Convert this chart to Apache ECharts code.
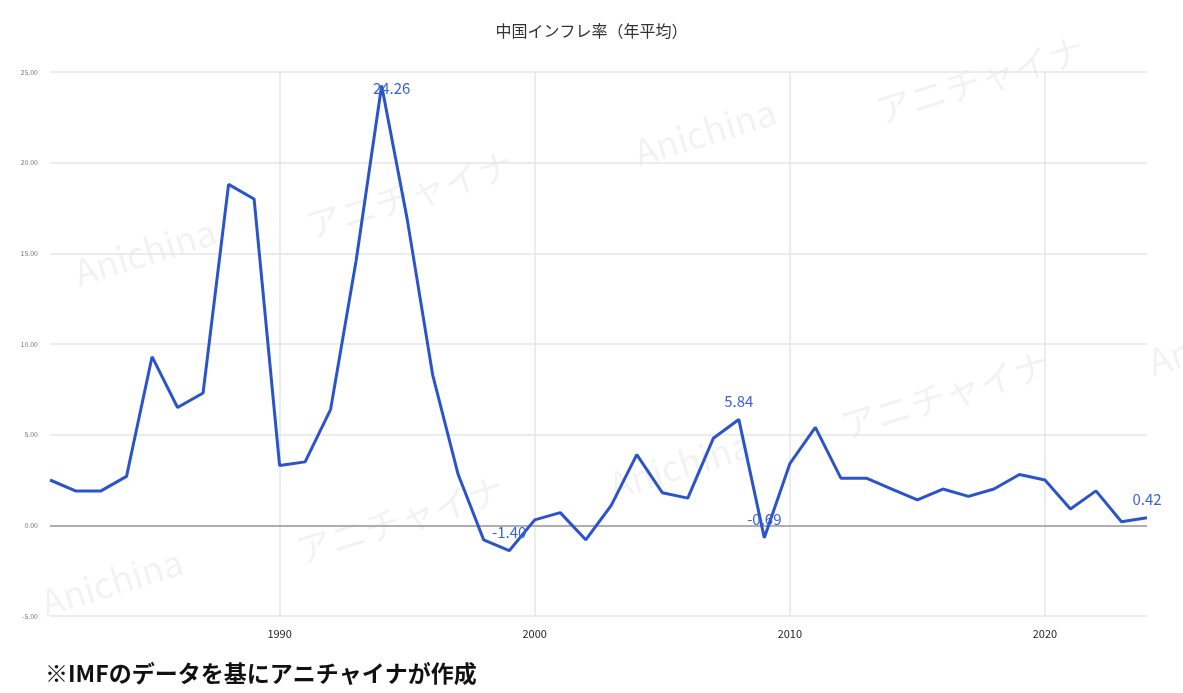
<!DOCTYPE html>
<html>
<head>
<meta charset="utf-8">
<script src="https://cdn.jsdelivr.net/npm/echarts@6/dist/echarts.min.js"></script>
<style>
  html, body { margin: 0; padding: 0; background: #fff; }
  #chart { width: 1183px; height: 693px; }
</style>
</head>
<body>
<div id="chart"></div>
<script>
// China annual average inflation (%), 1981–2024
const years = [1981,1982,1983,1984,1985,1986,1987,1988,1989,1990,
               1991,1992,1993,1994,1995,1996,1997,1998,1999,2000,
               2001,2002,2003,2004,2005,2006,2007,2008,2009,2010,
               2011,2012,2013,2014,2015,2016,2017,2018,2019,2020,
               2021,2022,2023,2024];
const inflation = [2.5,1.9,1.9,2.7,9.3,6.5,7.3,18.8,18.0,3.3,
                   3.5,6.4,14.6,24.26,16.9,8.3,2.8,-0.8,-1.40,0.3,
                   0.7,-0.8,1.1,3.9,1.8,1.5,4.8,5.84,-0.69,3.4,
                   5.4,2.6,2.6,2.0,1.4,2.0,1.6,2.0,2.8,2.5,
                   0.9,1.9,0.2,0.42];
const labeledYears = [1994, 1999, 2008, 2009, 2024];
const decadeTicks = [1990, 2000, 2010, 2020];

const titleText = '中国インフレ率（年平均）';
const noteText = '※IMFのデータを基にアニチャイナが作成';

const FONT = '"Noto Sans CJK JP", "Noto Sans", sans-serif';

const seriesData = years.map((y, i) => {
  const item = { value: [y, inflation[i]] };
  if (labeledYears.includes(y)) {
    item.label = {
      show: true,
      position: 'top',
      distance: 11,
      formatter: inflation[i].toFixed(2),
      color: '#3a63d6',
      fontSize: 15,
      fontFamily: FONT
    };
    if (y === 1994) item.label.offset = [10, 21];
  }
  return item;
});

// faint diagonal watermark text
const marks = [
  ['Anichina', 145, 252], ['アニチャイナ', 410, 195], ['Anichina', 705, 132],
  ['アニチャイナ', 980, 80], ['Anichina', 680, 465], ['アニチャイナ', 945, 395],
  ['Anichina', 112, 582], ['アニチャイナ', 400, 520], ['Ani', 1175, 355]
];
const watermarks = marks.map(([t, x, y]) => ({
  type: 'text', x: x, y: y, rotation: 0.3, z: 0, silent: true,
  style: {
    text: t, x: 0, y: 0, align: 'center', verticalAlign: 'middle',
    fill: 'rgba(0,0,0,0.05)', font: '36px ' + FONT
  }
}));

const chart = echarts.init(document.getElementById('chart'));
chart.setOption({
  animation: false,
  backgroundColor: '#ffffff',
  title: {
    text: titleText,
    left: 'center',
    top: 18,
    textStyle: { fontFamily: FONT, fontSize: 16, fontWeight: 'normal', color: '#333' }
  },
  grid: { left: 50, right: 36, top: 72, bottom: 77 },
  xAxis: {
    type: 'value',
    min: 1981,
    max: 2024,
    axisLine: { show: false },
    axisTick: { show: false },
    splitLine: { show: false },
    axisLabel: {
      customValues: decadeTicks,
      formatter: v => String(v),
      color: '#222',
      fontSize: 11,
      fontFamily: FONT,
      margin: 12
    }
  },
  yAxis: {
    type: 'value',
    min: -5,
    max: 25,
    interval: 5,
    axisLine: { show: false },
    axisTick: { show: false },
    splitLine: { lineStyle: { color: '#e6e6e6', width: 1.5 } },
    axisLabel: {
      formatter: v => v.toFixed(2),
      color: '#777',
      fontSize: 7,
      fontFamily: FONT,
      margin: 12
    }
  },
  series: [
    {
      // decade gridlines and zero baseline
      type: 'line',
      data: [],
      z: 1,
      silent: true,
      markLine: {
        z: 1,
        silent: true,
        symbol: 'none',
        label: { show: false },
        animation: false,
        data: decadeTicks.map(d => ({ xAxis: d, lineStyle: { color: '#e6e6e6', width: 1.5, type: 'solid' } }))
          .concat([{ yAxis: 0, lineStyle: { color: '#9a9a9a', width: 1.5, type: 'solid' } }])
      }
    },
    {
      type: 'line',
      z: 3,
      data: seriesData,
      showSymbol: true,
      symbol: 'circle',
      symbolSize: 0.1,
      lineStyle: { color: '#2b54cc', width: 3 },
      itemStyle: { color: '#2b54cc' }
    }
  ],
  graphic: watermarks.concat([{
    type: 'text', left: 45, top: 662, z: 10,
    style: { text: noteText, fill: '#111', font: 'bold 23px ' + FONT }
  }])
});
</script>
</body>
</html>
